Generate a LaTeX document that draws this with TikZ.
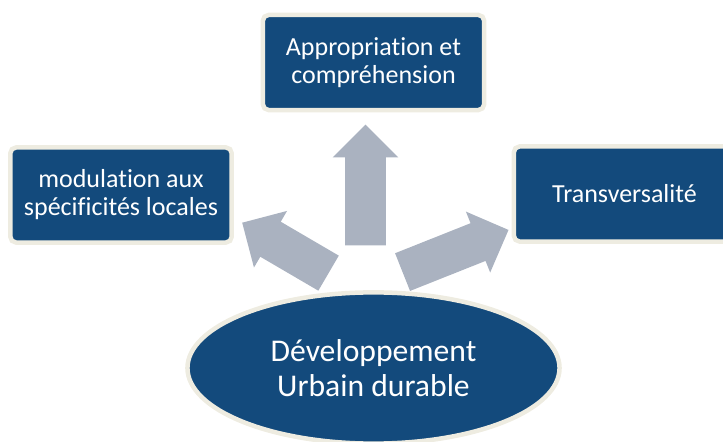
\documentclass[tikz,border=0pt]{standalone}
\usepackage{fontspec}
\setmainfont{Carlito}[RawFeature={-liga;-clig;-calt;-dlig}]
\usepackage{tikz}
\usetikzlibrary{shapes}

\definecolor{deepblue}{RGB}{19,74,124}
\definecolor{paleframe}{RGB}{238,236,225}
\definecolor{steelgrey}{RGB}{170,178,192}

\begin{document}
\begin{tikzpicture}[x=0.025cm,y=0.025cm,
boxnode/.style =
  {rectangle,
   draw=paleframe, fill=deepblue, text=white,
   line width=3.2pt, rounded corners=4pt,
   minimum height=2.375cm, minimum width=5.53cm,
   align=center, inner sep=0pt,
   font=\fontsize{18.5}{20}\selectfont},
ovalnode/.style =
  {ellipse,
   draw=paleframe, fill=deepblue, text=white,
   line width=3.2pt,
   minimum height=3.78cm, minimum width=9.3cm,
   align=center, inner sep=0pt,
   font=\fontsize{22.5}{25}\selectfont},
wide arrow/.style={single arrow,draw=none,fill=steelgrey,
  inner xsep=0pt,inner ysep=0.5cm,
  single arrow head extend=0.3125cm,anchor=tail}
]
\useasboundingbox (0,0) rectangle (723,441);
%Nodes
\node[ovalnode] (dev) at (373.5,73) {Développement\\Urbain durable};
\node[boxnode] (approp) at (373.5,378.5) {Appropriation et\\compréhension};
\node[boxnode] (modul) at (121,246) {modulation aux\\spécificités locales};
\node[boxnode] (transv) at (624.5,247) {Transversalité};
%Arrows
\node[wide arrow,minimum height=3.02cm,rotate=90] (upward) at (365.5,195.3) {};
\node[wide arrow,minimum height=2.5cm,rotate=149.7] (leftward) at (328.8,167.7) {};
\node[wide arrow,minimum height=2.85cm,rotate=21.7] (rightward) at (402.3,168.8) {};
\end{tikzpicture}
\end{document}
